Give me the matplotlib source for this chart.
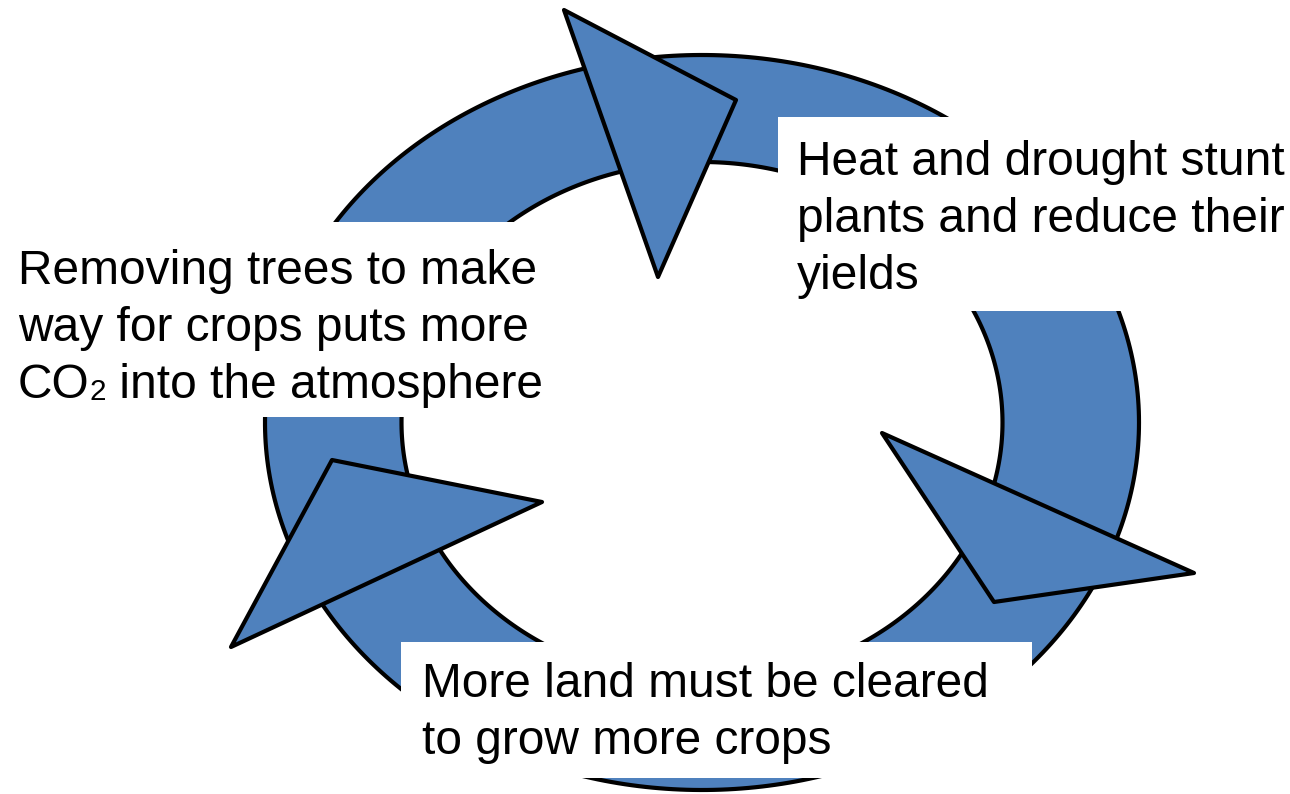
import numpy as np
import matplotlib
matplotlib.use("Agg")
import matplotlib.pyplot as plt
from matplotlib.path import Path
from matplotlib.patches import PathPatch, Polygon, Rectangle

plt.rcParams['font.family'] = ['Liberation Sans', 'DejaVu Sans']

W, H = 1290, 794

# ring geometry (pixel coordinates)
ring_center = (702, 422.5)
outer_radii = (437, 367.5)
inner_radii = (300.5, 260.5)

# arrowhead triangles
arrow_top = [(564, 10), (736, 100), (658, 277)]
arrow_right = [(882, 433), (1194, 573), (994, 602)]
arrow_left = [(332, 460), (542, 502), (231, 647)]

# text boxes: (x0, y0, x1, y1)
box_heat = (778, 117, 1290, 311)
box_remove = (0, 222, 556, 417)
box_land = (401, 642, 1032, 778)

lines_heat = ["Heat and drought stunt", "plants and reduce their", "yields"]
lines_remove = ["Removing trees to make", "way for crops puts more"]
co2_parts = ["CO", "2", " into the atmosphere"]
lines_land = ["More land must be cleared", "to grow more crops"]

blue = "#4F81BD"

fig = plt.figure(figsize=(W / 100, H / 100), dpi=100)
ax = fig.add_axes([0, 0, 1, 1])
ax.set_xlim(0, W)
ax.set_ylim(H, 0)
ax.axis('off')

t = np.linspace(0, 2 * np.pi, 400)
cx, cy = ring_center
ox = cx + outer_radii[0] * np.cos(t)
oy = cy + outer_radii[1] * np.sin(t)
ix = cx + inner_radii[0] * np.cos(t[::-1])
iy = cy + inner_radii[1] * np.sin(t[::-1])
verts = list(zip(ox, oy)) + list(zip(ix, iy))
codes = ([Path.MOVETO] + [Path.LINETO] * (len(t) - 2) + [Path.CLOSEPOLY]) * 2
ring = PathPatch(Path(verts, codes), facecolor=blue, edgecolor='black', lw=3)
ax.add_patch(ring)

for tri in (arrow_top, arrow_right, arrow_left):
    ax.add_patch(Polygon(tri, closed=True, facecolor=blue, edgecolor='black',
                         lw=3, joinstyle='round'))

for (x0, y0, x1, y1) in (box_heat, box_remove, box_land):
    ax.add_patch(Rectangle((x0, y0), x1 - x0, y1 - y0, facecolor='white',
                           edgecolor='none', zorder=5))

fs = 34.5
line_gap = 57


def put_lines(lines, x, y0):
    for i, s in enumerate(lines):
        ax.text(x, y0 + i * line_gap, s, fontsize=fs, ha='left',
                va='baseline', color='black', zorder=6)


put_lines(lines_heat, 797, 175)
put_lines(lines_remove, 18, 284)
put_lines(lines_land, 422, 697)

# CO2 line with a small baseline-sitting "2"
renderer = fig.canvas.get_renderer()
x = 18
y = 284 + 2 * line_gap
sizes = [fs, fs * 0.62, fs]
for part, size in zip(co2_parts, sizes):
    txt = ax.text(x, y + (2 if size < fs else 0), part, fontsize=size,
                  ha='left', va='baseline', color='black', zorder=6)
    bb = txt.get_window_extent(renderer=renderer)
    x += bb.width

fig.savefig("out.png", dpi=100, facecolor='white')
